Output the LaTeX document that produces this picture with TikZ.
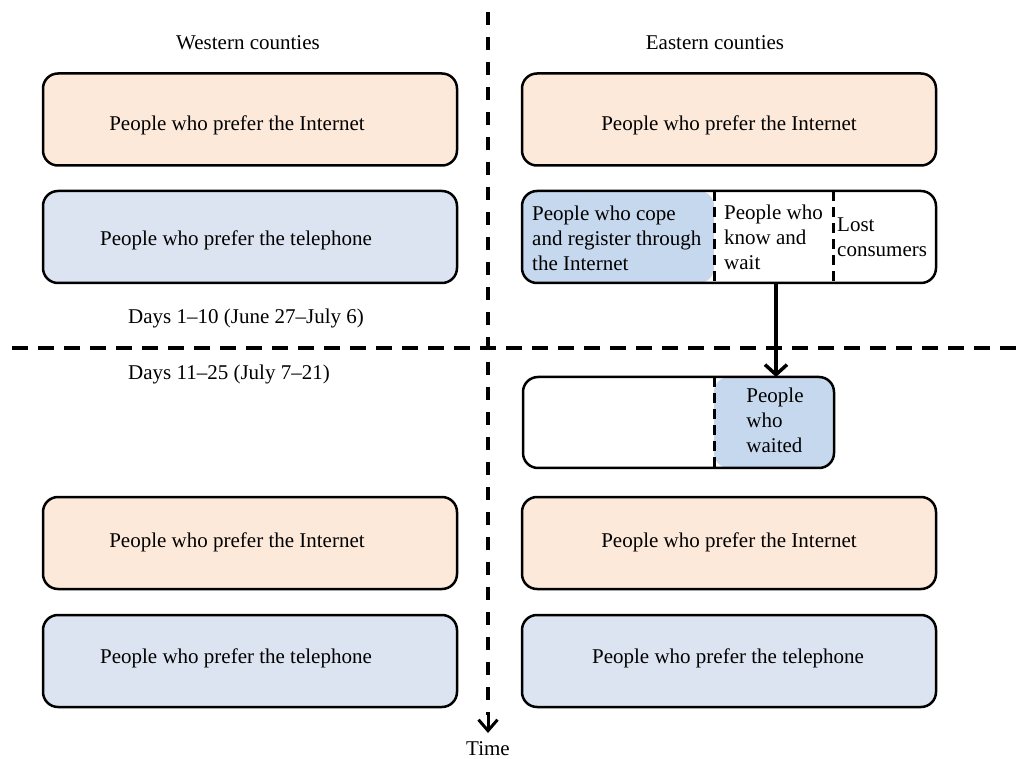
\documentclass[tikz,border=0pt]{standalone}
\usepackage{fontspec}
\setmainfont{Liberation Serif}
\usetikzlibrary{arrows.meta}
\definecolor{orangefill}{HTML}{FCE9DA}
\definecolor{bluefill}{HTML}{DBE4F0}
\definecolor{copeblue}{HTML}{C6D8EE}
\begin{document}
\begin{tikzpicture}[x=1pt,y=-1pt,
  font=\fontsize{21}{25}\selectfont,
  box/.style={draw=black, line width=2.5pt, rounded corners=15pt, minimum width=414pt,
    minimum height=92pt, inner sep=0pt, outer sep=0pt},
  inetbox/.style={box, fill=orangefill},
  telbox/.style={box, fill=bluefill},
  txt/.style={inner sep=0pt},
  divider/.style={line width=3pt, dash pattern=on 10pt off 6pt},
  vaxis/.style={line width=3.5pt, dash pattern=on 13pt off 12pt},
  haxis/.style={line width=3.5pt, dash pattern=on 16pt off 10pt},
  flow/.style={line width=4pt, -{Straight Barb[length=10pt,width=22pt,line width=3.5pt]}},
  timetip/.style={line width=3pt, -{Straight Barb[length=11pt,width=19pt,line width=3pt]}},
]
\useasboundingbox (0,0) rectangle (1021,759);

% axes
\coordinate (ttop) at (488,12);
\coordinate (tmid) at (488,715);
\coordinate (tstem) at (488,712);
\coordinate (ttip) at (488,733);
\coordinate (hl) at (12,348);
\coordinate (hr) at (1021,348);
\draw[haxis] (hl) -- (hr);
\draw[vaxis] (ttop) -- (tmid);
\draw[timetip] (tstem) -- (ttip);
\node[txt, anchor=north] (time) at (488,741) {Time};

% headings
\node[txt] (west) at (248,43) {Western counties};
\node[txt] (east) at (715,43) {Eastern counties};
\node[txt, anchor=west] (days1) at (128,318) {Days 1–10 (June 27–July 6)};
\node[txt, anchor=west] (days2) at (128,374) {Days 11–25 (July 7–21)};

% western boxes
\node[inetbox] (w1) at (250,119.5) {};
\node[txt] (w1t) at (237,125) {People who prefer the Internet};
\node[telbox] (w2) at (250,237) {};
\node[txt] (w2t) at (236,240) {People who prefer the telephone};
\node[inetbox] (w3) at (250,543) {};
\node[txt] (w3t) at (237,542) {People who prefer the Internet};
\node[telbox] (w4) at (250,661) {};
\node[txt] (w4t) at (236,658) {People who prefer the telephone};

% eastern boxes
\node[inetbox] (e1) at (729,119.5) {};
\node[txt] (e1t) at (729,125) {People who prefer the Internet};
\node[box, fill=white, path picture={\fill[copeblue] (path picture bounding box.south west) rectangle ([xshift=192pt]path picture bounding box.north west);}] (split) at (729,237) {};
\node[inetbox] (e3) at (729,543) {};
\node[txt] (e3t) at (729,542) {People who prefer the Internet};
\node[telbox] (e4) at (729,661) {};
\node[txt] (e4t) at (728,658) {People who prefer the telephone};

% split box content
\coordinate (dA) at (714,0);
\coordinate (dB) at (833,0);
\coordinate (ax) at (776,0);
\draw[divider] (split.north -| dA) -- (split.south -| dA);
\draw[divider] (split.north -| dB) -- (split.south -| dB);
\node[txt, anchor=west, align=left] (cope) at (532,238) {People who cope\\and register through\\the Internet};
\node[txt, anchor=west, align=left] (know) at (724,237) {People who\\know and\\wait};
\node[txt, anchor=west, align=left] (lost) at (837,237) {Lost\\consumers};

% waited box
\node[box, minimum width=311pt, minimum height=91pt, fill=white, path picture={\fill[copeblue] ([xshift=191pt]path picture bounding box.south west) rectangle (path picture bounding box.north east);}] (waitbox) at (678.5,422.5) {};
\draw[divider] (waitbox.north -| dA) -- (waitbox.south -| dA);
\node[txt, align=left] (waited) at (775,420) {People\\who\\waited};

% flow arrow
\draw[flow] (split.south -| ax) -- (waitbox.north -| ax);
\end{tikzpicture}
\end{document}
